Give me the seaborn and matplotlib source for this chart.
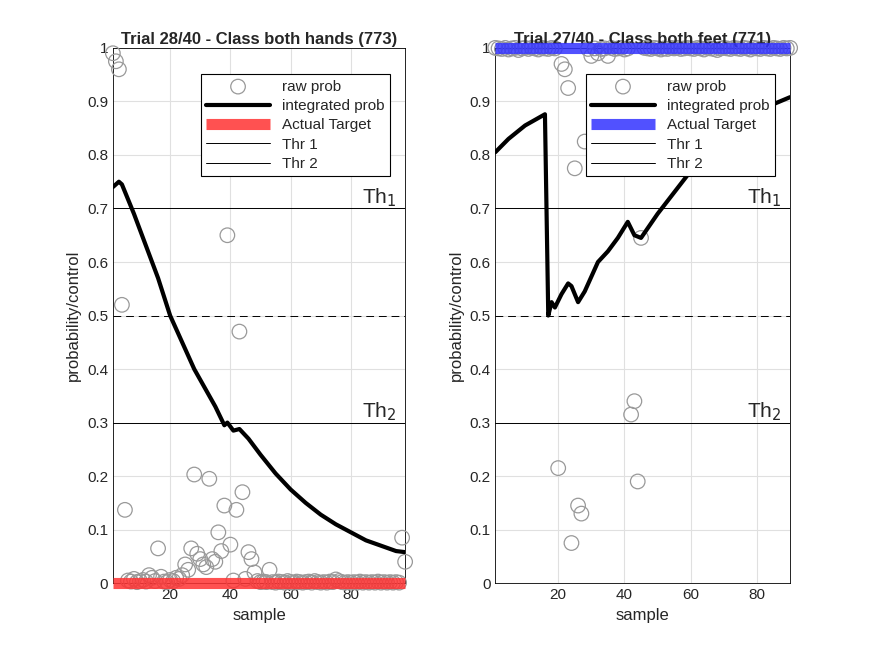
import numpy as np
import pandas as pd
import seaborn as sns
import matplotlib.pyplot as plt

# left trial (both hands, target 0)
hands_raw = [0.99, 0.975, 0.96, 0.52, 0.137, 0.005, 0.003, 0.008, 0.002, 0.004,
             0.006, 0.003, 0.015, 0.01, 0.004, 0.065, 0.012, 0.003, 0.002, 0.006,
             0.004, 0.01, 0.008, 0.015, 0.035, 0.025, 0.065, 0.203, 0.055, 0.045,
             0.035, 0.03, 0.195, 0.045, 0.04, 0.095, 0.06, 0.145, 0.65, 0.072,
             0.005, 0.137, 0.47, 0.17, 0.008, 0.058, 0.045, 0.02, 0.004, 0.002,
             0.003, 0.002, 0.025, 0.002, 0.001, 0.003, 0.002, 0.001, 0.004, 0.002,
             0.001, 0.003, 0.002, 0.001, 0.002, 0.003, 0.001, 0.004, 0.002, 0.001,
             0.002, 0.001, 0.003, 0.002, 0.007, 0.004, 0.002, 0.001, 0.002, 0.001,
             0.002, 0.001, 0.003, 0.001, 0.002, 0.001, 0.002, 0.001, 0.003, 0.001,
             0.002, 0.001, 0.002, 0.001, 0.002, 0.001, 0.085, 0.04]
hands_int_x = [1, 3, 4, 8, 12, 16, 20, 24, 28, 32, 35, 38, 39, 41, 43, 46, 50, 55,
               60, 65, 70, 75, 80, 85, 90, 95, 98]
hands_int_y = [0.74, 0.75, 0.745, 0.69, 0.63, 0.57, 0.50, 0.45, 0.40, 0.36, 0.33,
               0.295, 0.30, 0.285, 0.288, 0.27, 0.24, 0.205, 0.175, 0.15, 0.128,
               0.11, 0.095, 0.08, 0.07, 0.06, 0.058]

# right trial (both feet, target 1)
feet_raw = [1.0, 0.999, 0.998, 1.0, 0.997, 0.999, 1.0, 0.996, 0.999, 1.0,
            0.998, 1.0, 0.999, 0.997, 1.0, 0.999, 0.998, 1.0, 0.999, 0.215,
            0.97, 0.96, 0.925, 0.075, 0.775, 0.145, 0.13, 0.825, 0.998, 0.985,
            0.999, 0.99, 0.998, 0.999, 0.985, 1.0, 0.998, 0.999, 1.0, 0.997,
            0.999, 0.315, 0.34, 0.19, 0.645, 1.0, 0.999, 0.998, 1.0, 0.999,
            0.997, 0.999, 0.998, 1.0, 0.999, 1.0, 0.998, 0.999, 1.0, 0.999,
            0.998, 1.0, 0.999, 0.997, 1.0, 0.999, 0.998, 0.996, 0.999, 1.0,
            0.999, 0.998, 1.0, 0.999, 0.998, 1.0, 0.999, 0.997, 1.0, 0.999,
            0.998, 1.0, 0.999, 0.998, 1.0, 0.999, 0.998, 1.0, 0.999, 1.0]
feet_int_x = [1, 5, 10, 16, 17, 18, 19, 21, 23, 24, 26, 28, 32, 35, 38, 41, 43,
              45, 50, 55, 60, 65, 70, 80, 85, 90]
feet_int_y = [0.805, 0.83, 0.855, 0.876, 0.5, 0.525, 0.515, 0.54, 0.56, 0.555,
              0.525, 0.545, 0.6, 0.62, 0.645, 0.675, 0.65, 0.645, 0.69, 0.73,
              0.77, 0.80, 0.83, 0.875, 0.895, 0.908]

trials = [
    ("Trial 28/40 - Class both hands (773)", hands_raw, hands_int_x, hands_int_y, 0, "#ff3333"),
    ("Trial 27/40 - Class both feet (771)", feet_raw, feet_int_x, feet_int_y, 1, "#3333ff"),
]

sns.set_style("whitegrid")
plt.rcParams['font.family'] = ['Liberation Sans', 'DejaVu Sans']

fig = plt.figure(figsize=(8.75, 6.56), dpi=100)
positions = [[0.129, 0.111, 0.334, 0.816], [0.566, 0.111, 0.337, 0.816]]

for pos, (title, raw, ix, iy, target, col) in zip(positions, trials):
    ax = fig.add_axes(pos)
    n = len(raw)
    samples = np.arange(1, n + 1)
    sns.scatterplot(x=samples, y=raw, ax=ax, s=110, facecolors='none',
                    edgecolor='#999999', linewidth=0.9, label='raw prob',
                    zorder=3, clip_on=False)
    sns.lineplot(x=ix, y=iy, ax=ax, color='black', linewidth=3,
                 label='integrated prob', zorder=4)
    ax.plot([1, n], [target, target], color=col, alpha=0.85, linewidth=8,
            solid_capstyle='butt', label='Actual Target', zorder=5, clip_on=False)
    ax.axhline(0.7, color='black', linewidth=0.7, label='Thr 1')
    ax.axhline(0.3, color='black', linewidth=0.7, label='Thr 2')
    ax.axhline(0.5, color='black', linewidth=0.7, linestyle=(0, (8, 5)))
    ax.text(n - 0.03 * n, 0.71, r'Th$_1$', fontsize=15, ha='right')
    ax.text(n - 0.03 * n, 0.31, r'Th$_2$', fontsize=15, ha='right')
    ax.set_xlim(1, n)
    ax.set_ylim(0, 1)
    ax.set_xticks([20, 40, 60, 80])
    ax.set_yticks(np.round(np.arange(0, 1.01, 0.1), 1))
    ax.set_yticklabels(['0', '0.1', '0.2', '0.3', '0.4', '0.5', '0.6', '0.7',
                        '0.8', '0.9', '1'])
    ax.grid(True, color='#e0e0e0', linewidth=0.8)
    for sp in ax.spines.values():
        sp.set_color('black')
        sp.set_linewidth(0.6)
    ax.tick_params(direction='in', length=4, labelsize=11, colors='#262626')
    ax.set_xlabel('sample', fontsize=12, color='#262626')
    ax.set_ylabel('probability/control', fontsize=12, color='#262626')
    ax.set_title(title, fontsize=12, fontweight='bold', pad=3)
    leg = ax.legend(loc='upper right', bbox_to_anchor=(0.975, 0.965), fontsize=11,
                    fancybox=False, framealpha=1, edgecolor='black',
                    handlelength=4.2, borderpad=0.35, labelspacing=0.35)
    leg.get_frame().set_linewidth(0.8)
    leg.set_zorder(10)

fig.savefig('out.png', dpi=100)
